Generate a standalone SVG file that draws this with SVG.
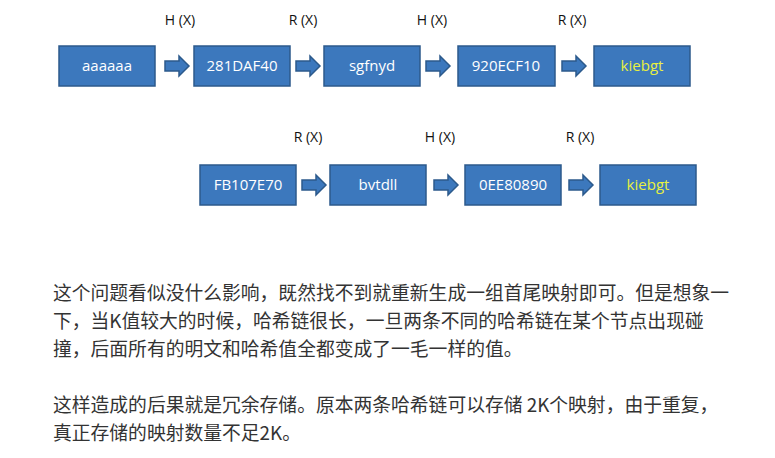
<svg xmlns="http://www.w3.org/2000/svg" width="775" height="458" viewBox="0 0 775 458">
<defs>
<style>
.b{fill:#3c78bd;stroke:#2c5a8c;stroke-width:1.5}
.t{font-family:"Open Sans","Liberation Sans",sans-serif;font-size:15px;fill:#fff;text-anchor:middle}
.y{fill:#e8f040}
.l{font-family:"Open Sans","Liberation Sans",sans-serif;font-size:14px;fill:#111;text-anchor:middle}
.p{font-family:"Noto Sans CJK SC",sans-serif;font-size:18.8px;fill:#333}
</style>
<path id="ar" d="M0,-5 H14 V-10 L24,0 L14,10 V5 H0 Z" class="b"/>
</defs>
<rect width="775" height="458" fill="#fff"/>
<g id="connectors">
<use href="#ar" x="165" y="66"/><use href="#ar" x="296" y="66"/><use href="#ar" x="426" y="66"/><use href="#ar" x="562" y="66"/>
<use href="#ar" x="302" y="185"/><use href="#ar" x="434" y="185"/><use href="#ar" x="569" y="185"/>
</g>
<g class="l"><text x="180" y="25">H (X)</text><text x="303" y="25">R (X)</text><text x="432" y="25">H (X)</text><text x="572" y="25">R (X)</text>
<text x="308" y="142">R (X)</text><text x="440" y="142">H (X)</text><text x="580" y="142">R (X)</text></g>
<g id="n1"><rect class="b" x="59" y="46" width="96" height="40"/><text class="t" x="107" y="71">aaaaaa</text></g>
<g id="n2"><rect class="b" x="194" y="46" width="96" height="40"/><text class="t" x="242" y="71">281DAF40</text></g>
<g id="n3"><rect class="b" x="324" y="46" width="96" height="40"/><text class="t" x="372" y="71">sgfnyd</text></g>
<g id="n4"><rect class="b" x="458" y="46" width="97" height="40"/><text class="t" x="506" y="71">920ECF10</text></g>
<g id="n5"><rect class="b" x="594" y="46" width="96" height="40"/><text class="t y" x="642" y="71">kiebgt</text></g>
<g id="m1"><rect class="b" x="200" y="165" width="96" height="40"/><text class="t" x="248" y="190">FB107E70</text></g>
<g id="m2"><rect class="b" x="330" y="165" width="96" height="40"/><text class="t" x="378" y="190">bvtdll</text></g>
<g id="m3"><rect class="b" x="465" y="165" width="96" height="40"/><text class="t" x="513" y="190">0EE80890</text></g>
<g id="m4"><rect class="b" x="600" y="165" width="96" height="40"/><text class="t y" x="648" y="190">kiebgt</text></g>
<g class="p">
<text x="53" y="300">这个问题看似没什么影响，既然找不到就重新生成一组首尾映射即可。但是想象一</text>
<text x="53" y="328">下，当K值较大的时候，哈希链很长，一旦两条不同的哈希链在某个节点出现碰</text>
<text x="53" y="356">撞，后面所有的明文和哈希值全都变成了一毛一样的值。</text>
<text x="53" y="412">这样造成的后果就是冗余存储。原本两条哈希链可以存储 2K个映射，由于重复，</text>
<text x="53" y="440">真正存储的映射数量不足2K。</text>
</g>
</svg>
